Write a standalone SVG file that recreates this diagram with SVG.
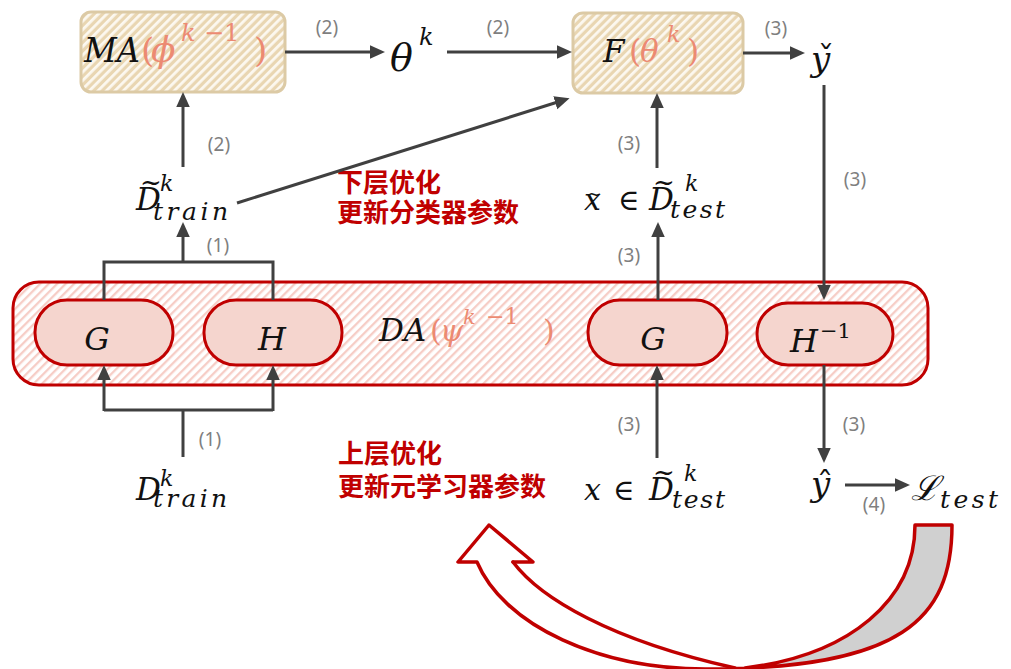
<svg xmlns="http://www.w3.org/2000/svg" width="1011" height="669" viewBox="0 0 1011 669">
<style>
.m{font-family:'DejaVu Serif','Liberation Serif',serif;font-style:italic;fill:#111}
.u{font-family:'DejaVu Serif','Liberation Serif',serif;fill:#111}
.s{fill:#ec8a72}
.lab{font-family:'Noto Sans','Liberation Sans',sans-serif;font-size:19px;fill:#7f7f7f;text-anchor:middle}
.cn{font-family:'Noto Sans CJK SC','Noto Sans CJK TC',sans-serif;font-weight:bold;font-size:26px;fill:#c00000}
.ln{fill:none;stroke:#404040;stroke-width:3}
.ar{marker-end:url(#ah)}
.pill{fill:#f5d5ce;stroke:#c00000;stroke-width:3}
.box{fill:url(#tan);stroke:#dccaa5;stroke-width:3}
</style>
<defs>
<pattern id="tan" width="6" height="6" patternUnits="userSpaceOnUse" patternTransform="rotate(45)">
<rect width="6" height="6" fill="#e9d6b2"/><rect width="2.8" height="6" fill="#fcf8f0"/>
</pattern>
<pattern id="pink" width="6" height="6" patternUnits="userSpaceOnUse" patternTransform="rotate(45)">
<rect width="6" height="6" fill="#ffffff"/><rect width="2.3" height="6" fill="#f6cdc6"/>
</pattern>
<marker id="ah" viewBox="0 0 10 10" refX="4" refY="5" markerWidth="15" markerHeight="15" markerUnits="userSpaceOnUse" orient="auto">
<path d="M0,0.5 L10,5 L0,9.5 z" fill="#404040"/>
</marker>
</defs>
<rect width="1011" height="669" fill="#fff"/>

<g id="DA">
<rect x="13" y="282" width="915" height="103" rx="26" fill="url(#pink)" stroke="#c00000" stroke-width="3"/>
<text class="m" x="379" y="341" font-size="31">DA</text>
<text class="u s" x="430" y="341" font-size="30">(</text>
<text class="m s" x="440" y="341" font-size="30">ψ</text>
<text class="m s" x="463" y="324" font-size="21">k</text>
<text class="u s" x="486" y="324" font-size="22">−1</text>
<text class="u s" x="543" y="341" font-size="30">)</text>
</g>
<g id="G1"><rect class="pill" x="35" y="300" width="138" height="65" rx="32"/><text class="m" x="97" y="350" font-size="32" text-anchor="middle">G</text></g>
<g id="H1"><rect class="pill" x="204" y="300" width="138" height="65" rx="32"/><text class="m" x="272" y="350" font-size="32" text-anchor="middle">H</text></g>
<g id="G2"><rect class="pill" x="588" y="300" width="139" height="65" rx="32"/><text class="m" x="653" y="350" font-size="32" text-anchor="middle">G</text></g>
<g id="Hinv"><rect class="pill" x="757" y="303" width="136" height="62" rx="31"/><text class="m" x="790" y="352" font-size="32">H</text><text class="u" x="820" y="338" font-size="21">−1</text></g>

<g id="MA">
<rect class="box" x="81" y="12" width="204" height="80" rx="10"/>
<text class="m" x="84" y="62" font-size="34" textLength="56" lengthAdjust="spacingAndGlyphs">MA</text>
<text class="u s" x="141" y="62" font-size="34">(</text>
<text class="m s" x="151" y="62" font-size="36">ϕ</text>
<text class="m s" x="181" y="41" font-size="24">k</text>
<text class="u s" x="204" y="41" font-size="24">−1</text>
<text class="u s" x="254" y="62" font-size="34">)</text>
</g>
<g id="theta"><text class="m" x="390" y="71" font-size="38">θ</text><text class="m" x="419" y="45" font-size="24">k</text></g>
<g id="F">
<rect class="box" x="573" y="13" width="170" height="80" rx="10"/>
<text class="m" x="603" y="62" font-size="31">F</text>
<text class="u s" x="629" y="62" font-size="31">(</text>
<text class="m s" x="640" y="62" font-size="31">θ</text>
<text class="m s" x="667" y="42" font-size="22">k</text>
<text class="u s" x="687" y="62" font-size="31">)</text>
</g>
<g id="ycheck"><text class="m" x="811" y="71" font-size="34">y</text><text class="u" x="826" y="70" font-size="34" text-anchor="middle">ˇ</text></g>

<g id="Dtrain_tilde">
<text class="m" x="136" y="210" font-size="31">D</text>
<text class="u" x="151" y="191" font-size="26" text-anchor="middle">~</text>
<text class="m" x="160" y="191" font-size="22">k</text>
<text class="m" x="153" y="220" font-size="25" textLength="75">train</text>
</g>
<g id="xtilde_test">
<text class="m" x="584" y="210" font-size="30">x</text>
<text class="u" x="594" y="200" font-size="18" text-anchor="middle">~</text>
<text class="u" x="618" y="210" font-size="29">∈</text>
<text class="m" x="649" y="210" font-size="31">D</text>
<text class="u" x="664" y="191" font-size="26" text-anchor="middle">~</text>
<text class="m" x="685" y="191" font-size="22">k</text>
<text class="m" x="670" y="218" font-size="25" textLength="55">test</text>
</g>
<g id="Dtrain">
<text class="m" x="136" y="500" font-size="31">D</text>
<text class="m" x="160" y="486" font-size="22">k</text>
<text class="m" x="153" y="507" font-size="25" textLength="74">train</text>
</g>
<g id="x_test">
<text class="m" x="584" y="500" font-size="30">x</text>
<text class="u" x="613" y="500" font-size="29">∈</text>
<text class="m" x="649" y="500" font-size="31">D</text>
<text class="u" x="664" y="481" font-size="26" text-anchor="middle">~</text>
<text class="m" x="684" y="481" font-size="22">k</text>
<text class="m" x="672" y="508" font-size="25" textLength="53">test</text>
</g>
<g id="yhat"><text class="m" x="811" y="496" font-size="34">y</text><text class="u" x="825" y="496" font-size="34" text-anchor="middle">ˆ</text></g>
<g id="Ltest"><text class="m" x="911" y="500" font-size="34">ℒ</text><text class="m" x="940" y="508" font-size="25" textLength="58">test</text></g>

<g id="notes">
<text class="cn" x="337" y="192">下层优化</text>
<text class="cn" x="337" y="222">更新分类器参数</text>
<text class="cn" x="338" y="463">上层优化</text>
<text class="cn" x="338" y="496">更新元学习器参数</text>
</g>

<g id="connectors">
<path class="ln ar" d="M285,52 H376"/>
<path class="ln ar" d="M447,52 H563"/>
<path class="ln ar" d="M743,53 H796"/>
<path class="ln ar" d="M824,85 V291"/>
<path class="ln ar" d="M183,167 V101"/>
<path class="ln ar" d="M237,203 L561,101"/>
<path class="ln ar" d="M657,168 V102"/>
<path class="ln" d="M104,300 V262 H273 V300"/>
<path class="ln ar" d="M183,262 V231"/>
<path class="ln ar" d="M658,300 V231"/>
<path class="ln" d="M183,457 V410"/>
<path class="ln" d="M104,410 H273"/>
<path class="ln ar" d="M104,411 V374"/>
<path class="ln ar" d="M273,411 V374"/>
<path class="ln ar" d="M657,458 V374"/>
<path class="ln ar" d="M824,365 V454"/>
<path class="ln ar" d="M845,485 H901"/>
<g id="labels">
<text class="lab" x="327" y="34">(2)</text>
<text class="lab" x="498" y="34">(2)</text>
<text class="lab" x="776" y="35">(3)</text>
<text class="lab" x="219" y="151">(2)</text>
<text class="lab" x="629" y="150">(3)</text>
<text class="lab" x="855" y="186">(3)</text>
<text class="lab" x="218" y="252">(1)</text>
<text class="lab" x="629" y="262">(3)</text>
<text class="lab" x="210" y="446">(1)</text>
<text class="lab" x="629" y="431">(3)</text>
<text class="lab" x="854" y="431">(3)</text>
<text class="lab" x="874" y="511">(4)</text>
</g>
<g id="feedback" stroke="#c00000" stroke-width="3.5" stroke-linejoin="round" stroke-linecap="round">
<path d="M952,525 C952,620 900,668 710,669 L745,668 C850,655 915,600 915,525 Z" fill="#d0d0d0" stroke="none"/>
<path d="M513,562 L533,562 L489,525 L458,562 L477,562 A236,142 0 0 0 710,669 C900,668 952,620 952,525 L915,525 C915,600 850,655 745,668" fill="none"/>
<path d="M513,562 C540,598 610,640 735,668" fill="none"/>
</g>
</g>
</svg>
